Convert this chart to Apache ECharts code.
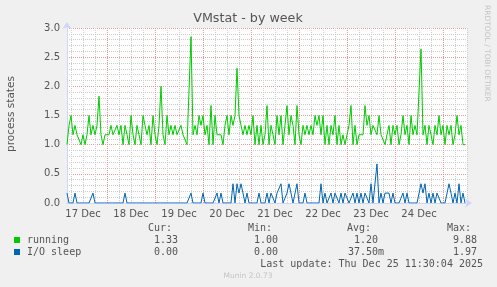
<!DOCTYPE html>
<html>
<head>
<meta charset="utf-8">
<script src="https://cdn.jsdelivr.net/npm/echarts@6/dist/echarts.min.js"></script>
<style>
html, body { margin: 0; padding: 0; background: #f0f0f0; }
#chart { width: 497px; height: 287px; }
</style>
</head>
<body>
<div id="chart"></div>
<script>
// one sample per hour, first one at 17 Dec 04:00
const startHour = 4
const dayLabels = ['17 Dec', '18 Dec', '19 Dec', '20 Dec', '21 Dec', '22 Dec', '23 Dec', '24 Dec']

const running = [
  1.0, 1.33, 1.5, 1.17, 1.33, 1.17, 1.17, 1.0, 1.17, 1.0,
  1.17, 1.5, 1.17, 1.33, 1.17, 1.33, 1.83, 1.17, 1.0, 1.17,
  1.17, 1.17, 1.33, 1.17, 1.17, 1.33, 1.17, 1.33, 1.0, 1.33,
  1.17, 1.0, 1.5, 1.17, 1.0, 1.33, 1.17, 1.0, 1.5, 1.33,
  1.17, 1.33, 1.0, 1.5, 1.17, 1.0, 1.33, 2.0, 1.17, 1.0,
  1.5, 1.17, 1.33, 1.17, 1.33, 1.17, 1.17, 1.33, 1.17, 1.17,
  1.0, 1.0, 2.85, 1.17, 1.33, 1.17, 1.5, 1.33, 1.5, 1.17,
  1.33, 1.0, 1.67, 1.0, 1.5, 1.17, 1.17, 1.17, 1.0, 1.33,
  1.5, 1.17, 1.5, 1.33, 1.5, 2.31, 1.5, 1.5, 1.17, 1.33,
  1.17, 1.33, 1.17, 1.5, 1.0, 1.33, 1.0, 1.33, 1.0, 1.17,
  1.67, 1.0, 1.33, 1.17, 1.0, 1.5, 1.17, 1.5, 1.0, 1.33,
  1.67, 1.17, 1.5, 1.33, 1.0, 1.67, 1.17, 1.0, 1.33, 1.17,
  1.33, 1.17, 1.33, 1.17, 1.5, 1.33, 1.5, 1.17, 1.5, 1.0,
  1.33, 1.0, 1.33, 1.17, 1.5, 1.0, 1.33, 1.0, 1.17, 1.0,
  1.17, 1.33, 1.67, 1.0, 1.33, 1.0, 1.17, 1.17, 1.17, 1.67,
  1.33, 1.5, 1.17, 1.33, 1.33, 1.17, 1.5, 1.17, 1.17, 1.0,
  1.17, 1.33, 1.0, 1.33, 1.17, 1.33, 1.0, 1.17, 1.5, 1.17,
  1.33, 1.0, 1.5, 1.17, 1.33, 1.17, 1.17, 2.64, 1.17, 1.33,
  1.0, 1.33, 1.17, 1.0, 1.33, 1.17, 1.5, 1.17, 1.33, 1.0,
  1.33, 1.17, 1.33, 1.0, 1.17, 1.5, 1.17, 1.33, 1.0, 1.0
]

const ioSleep = [
  0.17, 0, 0, 0, 0.17, 0, 0, 0, 0, 0,
  0, 0, 0, 0.17, 0, 0, 0, 0, 0, 0,
  0, 0, 0, 0, 0, 0, 0, 0, 0, 0.17,
  0, 0, 0, 0, 0, 0, 0, 0, 0, 0,
  0, 0, 0, 0, 0, 0, 0, 0, 0, 0,
  0, 0, 0, 0, 0, 0, 0, 0, 0, 0,
  0, 0, 0.17, 0, 0, 0, 0, 0, 0.17, 0,
  0, 0, 0, 0, 0, 0.17, 0, 0.17, 0, 0,
  0, 0, 0, 0.33, 0, 0.33, 0.17, 0.33, 0.17, 0,
  0.17, 0, 0, 0, 0, 0, 0.17, 0, 0, 0,
  0.17, 0, 0.17, 0.17, 0, 0.17, 0.17, 0.33, 0, 0,
  0.17, 0.33, 0.17, 0, 0, 0.33, 0, 0, 0, 0.17,
  0, 0, 0, 0, 0, 0, 0, 0.33, 0, 0.17,
  0, 0, 0.17, 0, 0.17, 0.17, 0, 0.17, 0, 0.17,
  0.17, 0, 0, 0.17, 0, 0.17, 0, 0.17, 0, 0.17,
  0.17, 0, 0.33, 0, 0, 0.67, 0, 0.17, 0, 0.17,
  0.17, 0.17, 0, 0.17, 0, 0, 0, 0, 0.17, 0,
  0.17, 0, 0, 0, 0, 0, 0, 0.33, 0.17, 0.33,
  0, 0.17, 0, 0.17, 0, 0.17, 0.17, 0, 0, 0,
  0, 0.33, 0.17, 0, 0.17, 0, 0.33, 0, 0.17, 0
]

const seriesNames = ['running', 'I/O sleep']
const seriesColors = ['#00CC00', '#0066B3']
const statHeaders = ['Cur:', 'Min:', 'Avg:', 'Max:']
const curVals = ['1.33', '0.00']
const minVals = ['1.00', '0.00']
const avgVals = ['1.20', '37.50m']
const maxVals = ['9.88', '1.97']
const lastUpdate = 'Last update: Thu Dec 25 11:30:04 2025'

// categories are hours since 17 Dec 00:00, one more than samples so the axis ends at the last slot
const hours = []
for (let k = 0; k <= running.length; k++) hours.push(String(startHour + k))

const labelFont = 'DejaVu Sans'
const mono = '10px "DejaVu Sans Mono"'
const textColor = '#555'
const axisColor = '#CFD6F8'
const majorGrid = '#E89898'
const minorGrid = '#CDCDCD'

const isNoon = (i, v) => +v % 24 === 12 && Math.floor(+v / 24) < dayLabels.length

const chart = echarts.init(document.getElementById('chart'))

// legend / statistics block under the plot
const graphic = [
  { type: 'text', x: 248, y: 19, style: { text: 'VMstat - by week', font: '12.7px "DejaVu Sans"', fill: textColor, textAlign: 'center', textVerticalAlign: 'middle' } },
  { type: 'text', x: 11, y: 114, rotation: Math.PI / 2, style: { text: 'process states', font: '10.5px "DejaVu Sans"', fill: textColor, textAlign: 'center', textVerticalAlign: 'middle' } },
  { type: 'text', x: 487, y: 5, rotation: -Math.PI / 2, style: { text: 'RRDTOOL / TOBI OETIKER', font: '7.5px "DejaVu Sans"', fill: '#c4c4c4', textAlign: 'left', textVerticalAlign: 'middle' } },
  { type: 'text', x: 248, y: 276, style: { text: 'Munin 2.0.73', font: '7.5px "DejaVu Sans"', fill: '#c4c4c4', textAlign: 'center', textVerticalAlign: 'middle' } },
  { type: 'text', x: 483, y: 264, style: { text: lastUpdate, font: mono, fill: textColor, textAlign: 'right', textVerticalAlign: 'middle' } }
]

const headerRight = [172, 272, 371, 471]
statHeaders.forEach((h, i) => {
  graphic.push({ type: 'text', x: headerRight[i], y: 228, style: { text: h, font: mono, fill: textColor, textAlign: 'right', textVerticalAlign: 'middle' } })
})

const valueRight = [178, 278, 384, 477]
seriesNames.forEach((name, r) => {
  const y = 240 + r * 12
  graphic.push({ type: 'rect', shape: { x: 14, y: y - 3, width: 6, height: 6 }, style: { fill: seriesColors[r] } })
  graphic.push({ type: 'text', x: 27, y: y, style: { text: name, font: mono, fill: textColor, textAlign: 'left', textVerticalAlign: 'middle' } })
  const row = [curVals[r], minVals[r], avgVals[r], maxVals[r]]
  row.forEach((v, c) => {
    // values without unit suffix keep a blank where the suffix would go
    const txt = c === 2 && !/[a-zA-Z]$/.test(v) ? v + ' ' : v
    graphic.push({ type: 'text', x: valueRight[c], y: y, style: { text: txt, font: mono, fill: textColor, textAlign: 'right', textVerticalAlign: 'middle' } })
  })
})

chart.setOption({
  animation: false,
  backgroundColor: '#f0f0f0',
  grid: { left: 67, top: 28, width: 400, height: 175, show: true, backgroundColor: '#ffffff', borderWidth: 0 },
  xAxis: [
    {
      type: 'category',
      data: hours,
      boundaryGap: false,
      axisLine: { show: true, lineStyle: { color: axisColor, width: 1 }, symbol: ['none', 'arrow'], symbolSize: [7, 7], symbolOffset: [0, 5] },
      axisTick: { show: false },
      axisLabel: {
        interval: isNoon,
        formatter: v => dayLabels[Math.floor(+v / 24)] || '',
        color: textColor, fontFamily: labelFont, fontSize: 10, margin: 6
      },
      splitLine: { show: true, interval: (i, v) => +v % 24 === 0, lineStyle: { color: majorGrid, type: [1, 1], width: 1 } },
      z: 1
    },
    {
      type: 'category',
      data: hours,
      boundaryGap: false,
      axisLine: { show: false },
      axisTick: { show: false },
      axisLabel: { show: false },
      splitLine: { show: true, interval: (i, v) => +v % 6 === 0 && +v % 24 !== 0, lineStyle: { color: minorGrid, type: [1, 1], width: 1 } }
    }
  ],
  yAxis: {
    type: 'value',
    min: 0,
    max: 3,
    interval: 0.5,
    axisLine: { show: true, lineStyle: { color: axisColor, width: 1 }, symbol: ['none', 'arrow'], symbolSize: [7, 7], symbolOffset: [0, 6] },
    axisTick: { show: false },
    axisLabel: { color: textColor, fontFamily: labelFont, fontSize: 10, margin: 7, formatter: v => v.toFixed(1) },
    splitLine: { show: true, lineStyle: { color: majorGrid, type: [1, 1], width: 1 } },
    minorTick: { show: false, splitNumber: 5 },
    minorSplitLine: { show: true, lineStyle: { color: minorGrid, type: [1, 1], width: 1 } }
  },
  series: [
    { name: seriesNames[0], type: 'line', data: running, symbol: 'none', color: seriesColors[0], lineStyle: { width: 1 }, silent: true },
    { name: seriesNames[1], type: 'line', data: ioSleep, symbol: 'none', color: seriesColors[1], lineStyle: { width: 1 }, silent: true }
  ],
  graphic: graphic
})
</script>
</body>
</html>
